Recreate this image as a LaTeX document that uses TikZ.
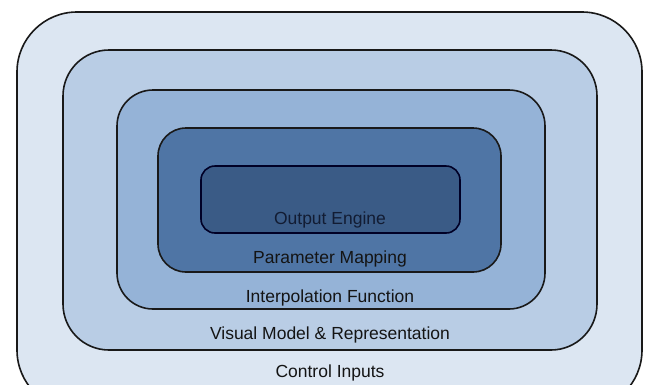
\documentclass[tikz,border=0pt]{standalone}
\usepackage{fontspec}
\setmainfont{Liberation Sans}
\definecolor{cA}{HTML}{DCE6F2}
\definecolor{cB}{HTML}{B9CDE5}
\definecolor{cC}{HTML}{95B3D7}
\definecolor{cD}{HTML}{4F75A5}
\definecolor{cE}{HTML}{3A5B86}
\definecolor{txt}{HTML}{141414}
\definecolor{txtdark}{HTML}{121C33}
\begin{document}
\begin{tikzpicture}[x=1pt,y=-1pt,
  layer/.style={draw=black!90, line width=1.6pt},
  lbl/.style={font=\fontsize{17.5}{20}\selectfont, text=txt, inner sep=0pt, anchor=center}]
\useasboundingbox (0,0) rectangle (646,384);
\clip (0,0) rectangle (646,384);
\fill[white] (0,0) rectangle (646,384);
\draw[layer, fill=cA, rounded corners=60pt] (17,12) rectangle (642,410);
\draw[layer, fill=cB, rounded corners=46pt] (63,50) rectangle (597,350);
\draw[layer, fill=cC, rounded corners=36pt] (117,90) rectangle (545,309);
\draw[layer, fill=cD, rounded corners=28pt] (158,128) rectangle (501,272);
\draw[layer, fill=cE, draw=black!85!blue, rounded corners=14pt] (201,166) rectangle (460,233);
\node[lbl, text=txtdark] (out) at (330,220) {Output Engine};
\node[lbl] (par) at (330,259) {Parameter Mapping};
\node[lbl] (int) at (330,298) {Interpolation Function};
\node[lbl] (vis) at (330,335) {Visual Model \& Representation};
\node[lbl] (ctl) at (330,373) {Control Inputs};
\end{tikzpicture}
\end{document}
